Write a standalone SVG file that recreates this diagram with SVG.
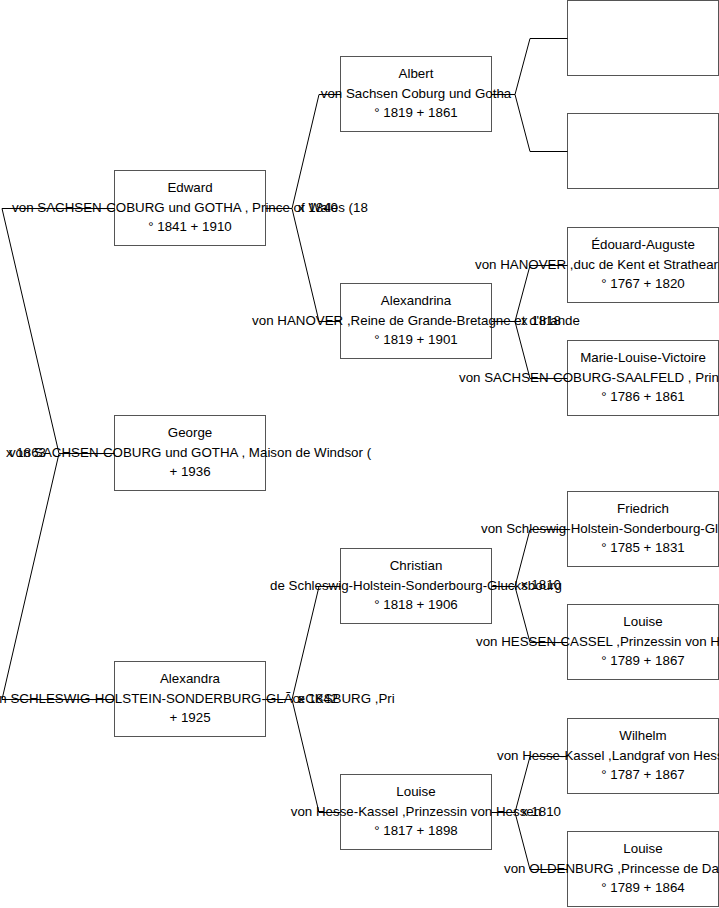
<svg xmlns="http://www.w3.org/2000/svg" width="719" height="908" viewBox="0 0 719 908">
<style>
.box{fill:#fff;stroke:#555;stroke-width:1}
text{font-family:"Liberation Sans",Arial,sans-serif;font-size:13.33px;fill:#000}
.c{text-anchor:middle}
.conn{fill:none;stroke:#000;stroke-width:1}
</style>
<rect width="719" height="908" fill="#fff"/>
<g id="node-edward"><rect class="box" x="114.5" y="170.5" width="151" height="75"/>
<text class="c" x="190" y="191.5">Edward</text>
<text class="c" x="190" y="211.5">von SACHSEN-COBURG und GOTHA , Prince of Wales (18</text>
<text class="c" x="190" y="230.5">° 1841 + 1910</text></g>
<g id="node-george"><rect class="box" x="114.5" y="415.5" width="151" height="75"/>
<text class="c" x="190" y="436.5">George</text>
<text class="c" x="190" y="456.5">von SACHSEN-COBURG und GOTHA , Maison de Windsor (</text>
<text class="c" x="190" y="475.5">+ 1936</text></g>
<g id="node-alexandra"><rect class="box" x="114.5" y="661.5" width="151" height="75"/>
<text class="c" x="190" y="682.5">Alexandra</text>
<text class="c" x="190" y="702.5">von SCHLESWIG-HOLSTEIN-SONDERBURG-GLÃœCKSBURG ,Pri</text>
<text class="c" x="190" y="721.5">+ 1925</text></g>
<g id="node-albert"><rect class="box" x="340.5" y="56.5" width="151" height="75"/>
<text class="c" x="416" y="77.5">Albert</text>
<text class="c" x="416" y="97.5">von Sachsen Coburg und Gotha</text>
<text class="c" x="416" y="116.5">° 1819 + 1861</text></g>
<g id="node-alexandrina"><rect class="box" x="340.5" y="283.5" width="151" height="75"/>
<text class="c" x="416" y="304.5">Alexandrina</text>
<text class="c" x="416" y="324.5">von HANOVER ,Reine de Grande-Bretagne et d'Irlande</text>
<text class="c" x="416" y="343.5">° 1819 + 1901</text></g>
<g id="node-christian"><rect class="box" x="340.5" y="548.5" width="151" height="75"/>
<text class="c" x="416" y="569.5">Christian</text>
<text class="c" x="416" y="589.5">de Schleswig-Holstein-Sonderbourg-Glucksbourg</text>
<text class="c" x="416" y="608.5">° 1818 + 1906</text></g>
<g id="node-louise1"><rect class="box" x="340.5" y="774.5" width="151" height="75"/>
<text class="c" x="416" y="795.5">Louise</text>
<text class="c" x="416" y="815.5">von Hesse-Kassel ,Prinzessin von Hessen</text>
<text class="c" x="416" y="834.5">° 1817 + 1898</text></g>
<g id="node-empty1"><rect class="box" x="567.5" y="0.5" width="151" height="75"/></g>
<g id="node-empty2"><rect class="box" x="567.5" y="113.5" width="151" height="75"/></g>
<g id="node-edouard"><rect class="box" x="567.5" y="227.5" width="151" height="75"/>
<text class="c" x="643" y="248.5">Édouard-Auguste</text>
<text x="475" y="268.5">von HANOVER ,duc de Kent et Strathearn</text>
<text class="c" x="643" y="287.5">° 1767 + 1820</text></g>
<g id="node-marielouise"><rect class="box" x="567.5" y="340.5" width="151" height="75"/>
<text class="c" x="643" y="361.5">Marie-Louise-Victoire</text>
<text x="459" y="381.5">von SACHSEN-COBURG-SAALFELD , Prin</text>
<text class="c" x="643" y="400.5">° 1786 + 1861</text></g>
<g id="node-friedrich"><rect class="box" x="567.5" y="491.5" width="151" height="75"/>
<text class="c" x="643" y="512.5">Friedrich</text>
<text x="481" y="532.5">von Schleswig-Holstein-Sonderbourg-Gl</text>
<text class="c" x="643" y="551.5">° 1785 + 1831</text></g>
<g id="node-louise2"><rect class="box" x="567.5" y="604.5" width="151" height="75"/>
<text class="c" x="643" y="625.5">Louise</text>
<text x="476" y="645.5">von HESSEN-CASSEL ,Prinzessin von H</text>
<text class="c" x="643" y="664.5">° 1789 + 1867</text></g>
<g id="node-wilhelm"><rect class="box" x="567.5" y="718.5" width="151" height="75"/>
<text class="c" x="643" y="739.5">Wilhelm</text>
<text x="497" y="759.5">von Hesse-Kassel ,Landgraf von Hess</text>
<text class="c" x="643" y="778.5">° 1787 + 1867</text></g>
<g id="node-louise3"><rect class="box" x="567.5" y="831.5" width="151" height="75"/>
<text class="c" x="643" y="852.5">Louise</text>
<text x="504" y="872.5">von OLDENBURG ,Princesse de Da</text>
<text class="c" x="643" y="891.5">° 1789 + 1864</text></g>
<g id="connectors">
<path class="conn" d="M114.5,453.5 H59 L2,208.5 H114.5 M59,453.5 L2,699.5 H114.5"/>
<path class="conn" d="M265.5,208.5 H292 L319,94.5 H340.5 M292,208.5 L319,321.5 H340.5"/>
<path class="conn" d="M265.5,699.5 H292 L319,586.5 H340.5 M292,699.5 L319,812.5 H340.5"/>
<path class="conn" d="M491.5,94.5 H515 L530,38.5 H567.5 M515,94.5 L530,151.5 H567.5"/>
<path class="conn" d="M491.5,321.5 H515 L530,265.5 H567.5 M515,321.5 L530,378.5 H567.5"/>
<path class="conn" d="M491.5,586.5 H515 L530,529.5 H567.5 M515,586.5 L530,642.5 H567.5"/>
<path class="conn" d="M491.5,812.5 H515 L530,756.5 H567.5 M515,812.5 L530,869.5 H567.5"/>
<text x="6" y="456.5">x 1863</text>
<text x="298" y="211.5">x 1840</text>
<text x="298" y="702.5">x 1842</text>
<text x="521" y="324.5">x 1818</text>
<text x="521" y="589">x 1810</text>
<text x="521" y="815.5">x 1810</text>
</g>
</svg>
